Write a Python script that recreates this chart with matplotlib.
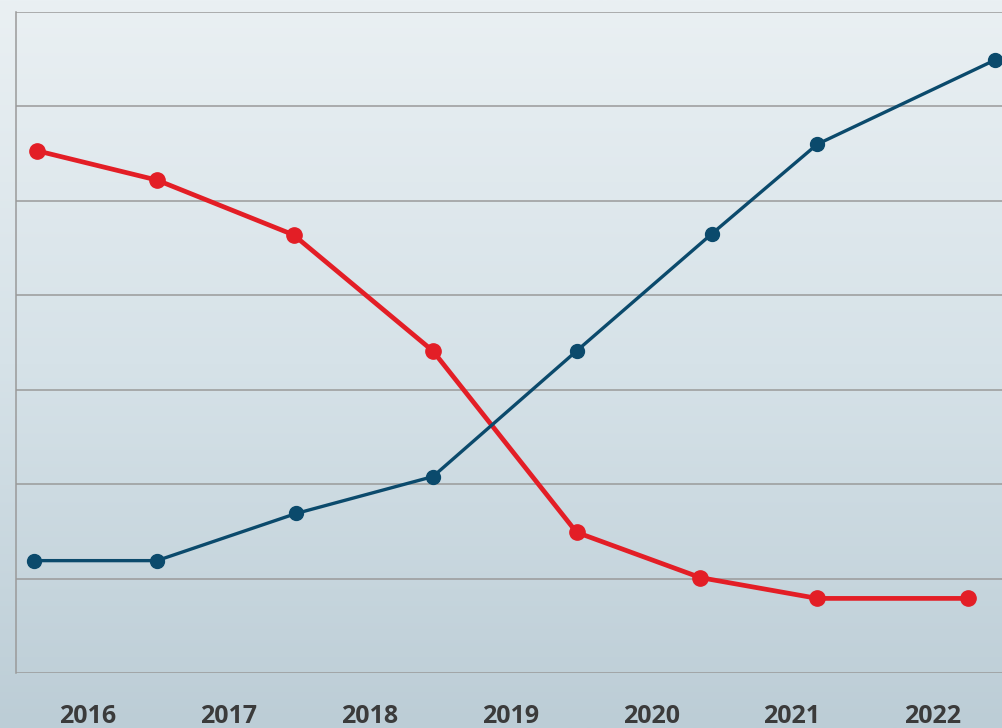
import matplotlib.pyplot as plt
import numpy as np
from matplotlib.colors import LinearSegmentedColormap

# Data (x positions in year units, y in grid units)
years = [2016, 2017, 2018, 2019, 2020, 2021, 2022]

red_x = [2015.64, 2016.49, 2017.46, 2018.45, 2019.47, 2020.35, 2021.18, 2022.25]
red_y = [5.53, 5.22, 4.64, 3.41, 1.49, 1.01, 0.79, 0.79]

blue_x = [2015.62, 2016.49, 2017.48, 2018.45, 2019.47, 2020.43, 2021.18, 2022.44]
blue_y = [1.19, 1.19, 1.69, 2.08, 3.41, 4.65, 5.60, 6.49]

fig = plt.figure(figsize=(10.03, 7.28), dpi=100)

# Background gradient
bg = fig.add_axes([0, 0, 1, 1])
cmap = LinearSegmentedColormap.from_list("bg", ["#eaf0f3", "#d6e2e8", "#bccdd6"])
grad = np.linspace(0, 1, 256).reshape(-1, 1)
bg.imshow(grad, aspect="auto", cmap=cmap, extent=[0, 1, 0, 1], origin="upper")
bg.axis("off")

ax = fig.add_axes([16 / 1003, 55 / 728, 1 - 16 / 1003 + 0.01, 661 / 728])
ax.patch.set_alpha(0)

ax.set_xlim(2015.489, 2022.57)
ax.set_ylim(0, 7)

ax.set_yticks(range(0, 8))
ax.yaxis.grid(True, color="#9a9a9a", linewidth=1.1)
ax.set_axisbelow(True)
ax.tick_params(axis="y", left=False, labelleft=False)

for s in ["top", "right", "bottom"]:
    ax.spines[s].set_visible(False)
ax.spines["left"].set_color("#9a9a9a")
ax.spines["left"].set_linewidth(1.1)

ax.set_xticks(years)
ax.set_xticklabels([str(y) for y in years], fontsize=18, fontweight="bold",
                   color="#3b3b3b", family="Open Sans")
ax.tick_params(axis="x", bottom=False, pad=19)

ax.plot(red_x, red_y, color="#e31e26", linewidth=3.4, marker="o",
        markersize=11, zorder=3, clip_on=False)
ax.plot(blue_x, blue_y, color="#0b4a6c", linewidth=2.4, marker="o",
        markersize=10, zorder=4, clip_on=False)

plt.savefig("out.png", dpi=100)
